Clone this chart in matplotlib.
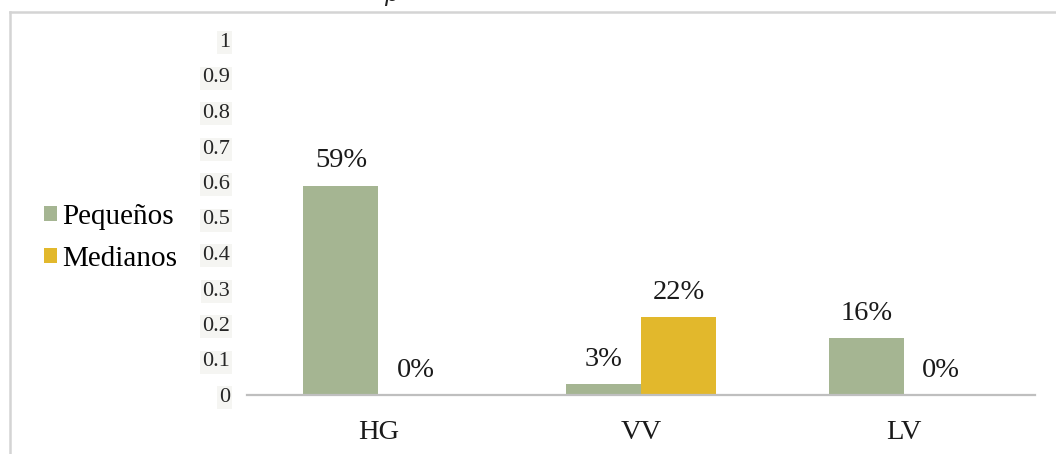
import matplotlib
matplotlib.use("Agg")
import matplotlib.pyplot as plt
from matplotlib.patches import Patch
from matplotlib.lines import Line2D
import numpy as np

categories = ["HG", "VV", "LV"]
series_names = ["Pequeños", "Medianos"]
pequenos = [0.59, 0.03, 0.16]
medianos = [0.0, 0.22, 0.0]
value_labels = [["59%", "3%", "16%"], ["0%", "22%", "0%"]]
yticks = [0, 0.1, 0.2, 0.3, 0.4, 0.5, 0.6, 0.7, 0.8, 0.9, 1]
ytick_labels = ["0", "0.1", "0.2", "0.3", "0.4", "0.5", "0.6", "0.7", "0.8", "0.9", "1"]
colors = ["#A5B592", "#E2B82C"]

plt.rcParams["font.family"] = ["Liberation Serif", "DejaVu Serif"]

W, H = 1056, 454
fig = plt.figure(figsize=(W / 100, H / 100), dpi=100)
fig.patch.set_facecolor("white")

ax = fig.add_axes([247 / W, (H - 395) / H, (1035 - 247) / W, (395 - 40) / H])

x = np.arange(len(categories))
width = 0.285
series = [pequenos, medianos]
for i, (vals, col) in enumerate(zip(series, colors)):
    offs = (i - 0.5) * width
    bars = ax.bar(x + offs, vals, width=width, color=col, label=series_names[i], zorder=2)
    for b, lab in zip(bars, value_labels[i]):
        ax.annotate(lab, (b.get_x() + b.get_width() / 2, b.get_height()),
                    xytext=(0, 13), textcoords="offset points",
                    ha="center", va="baseline", fontsize=20.5, color="#1a1a1a")

ax.set_xlim(-0.5, len(categories) - 0.5)
ax.set_ylim(0, 1)
ax.set_yticks(yticks)
ax.set_yticklabels(ytick_labels)
ax.set_xticks(x)
ax.set_xticklabels(categories)

for s in ["top", "right", "left"]:
    ax.spines[s].set_visible(False)
ax.spines["bottom"].set_color("#BFBFBF")
ax.spines["bottom"].set_linewidth(1.6)
ax.spines["bottom"].set_zorder(3)

ax.tick_params(axis="y", length=0, pad=12, labelsize=16, labelcolor="#262626")
ax.tick_params(axis="x", length=0, pad=18, labelsize=20.5, labelcolor="#1a1a1a")
for t in ax.get_yticklabels():
    t.set_bbox(dict(facecolor="#F5F5F2", edgecolor="none", pad=1.5))

handles = [Patch(facecolor=c, edgecolor="none") for c in colors]
fig.legend(handles, series_names, loc="center left",
           bbox_to_anchor=(32 / W, 1 - 238 / H), frameon=False,
           fontsize=21, handlelength=0.45, handleheight=0.45,
           handletextpad=0.2, labelspacing=0.55, borderaxespad=0)

# frame of the chart area
fig.add_artist(Line2D([10 / W, 1.0], [1 - 12 / H, 1 - 12 / H],
                      transform=fig.transFigure, color="#D4D4D4", linewidth=1.8))
fig.add_artist(Line2D([10 / W, 10 / W], [0, 1 - 12 / H],
                      transform=fig.transFigure, color="#D4D4D4", linewidth=1.8))

# cut-off title fragment at the top edge
fig.text(384 / W, 1 - 1 / H, "p", style="italic", fontsize=17,
         family=["DejaVu Sans"], color="#222222", ha="left", va="baseline")

fig.savefig("out.png", dpi=100, facecolor="white")
